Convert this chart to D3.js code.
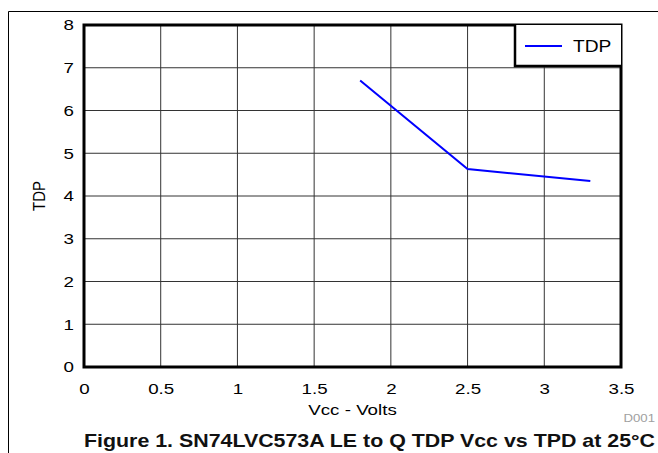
<!DOCTYPE html>
<html>
<head>
<meta charset="utf-8">
<script src="https://cdn.jsdelivr.net/npm/d3@7"></script>
<style>
  body { margin: 0; background: #fff; }
  svg { display: block; font-family: "Liberation Sans", Arial, sans-serif; }
</style>
</head>
<body>
<svg width="658" height="453"></svg>
<script>
// data
const vcc = [1.8, 2.5, 3.3];
const tdp = [6.7, 4.63, 4.35];
const xTicks = [0, 0.5, 1, 1.5, 2, 2.5, 3, 3.5];
const yTicks = [0, 1, 2, 3, 4, 5, 6, 7, 8];
const seriesName = 'TDP';
const title = 'Figure 1. SN74LVC573A LE to Q TDP Vcc vs TPD at 25°C';

const svg = d3.select('svg');
const plot = { left: 84, top: 25, right: 621, bottom: 367 };
const sx = 1.25; // the source image is stretched horizontally

const x = d3.scaleLinear().domain([0, 3.5]).range([plot.left, plot.right]);
const y = d3.scaleLinear().domain([0, 8]).range([plot.bottom, plot.top]);

// outer frame (top and left only)
svg.append('path')
  .attr('d', 'M8.5,453 V11.5 H658')
  .attr('fill', 'none')
  .attr('stroke', '#000')
  .attr('stroke-width', 1);

// grid
const grid = svg.append('g').attr('stroke', '#333').attr('stroke-width', 1);
grid.selectAll('line.v')
  .data(xTicks.slice(1, -1))
  .enter().append('line')
  .attr('class', 'v')
  .attr('x1', d => x(d)).attr('x2', d => x(d))
  .attr('y1', plot.top).attr('y2', plot.bottom);
grid.selectAll('line.h')
  .data(yTicks.slice(1, -1))
  .enter().append('line')
  .attr('class', 'h')
  .attr('y1', d => y(d)).attr('y2', d => y(d))
  .attr('x1', plot.left).attr('x2', plot.right);

// axes (labels only)
const xAxis = d3.axisBottom(x).tickValues(xTicks).tickSize(0).tickPadding(16)
  .tickFormat(d3.format('~g'));
const yAxis = d3.axisLeft(y).tickValues(yTicks).tickSize(0)
  .tickFormat(d3.format('d'));

const gx = svg.append('g').attr('transform', `translate(0,${plot.bottom})`).call(xAxis);
const gy = svg.append('g').attr('transform', `translate(${plot.left},0)`).call(yAxis);
[gx, gy].forEach(g => {
  g.select('.domain').remove();
  g.selectAll('text')
    .attr('font-family', '"Liberation Sans", Arial, sans-serif')
    .attr('font-size', 15)
    .attr('fill', '#000')
    .attr('transform', `scale(${sx},1)`);
});
gy.selectAll('text').attr('x', -8);

// series line
const line = d3.line()
  .x((d, i) => x(vcc[i]))
  .y(d => y(d));
svg.append('path')
  .datum(tdp)
  .attr('d', line)
  .attr('fill', 'none')
  .attr('stroke', '#0000ff')
  .attr('stroke-width', 2);

// plot border
svg.append('rect')
  .attr('x', plot.left).attr('y', plot.top)
  .attr('width', plot.right - plot.left)
  .attr('height', plot.bottom - plot.top)
  .attr('fill', 'none')
  .attr('stroke', '#000')
  .attr('stroke-width', 3);

// legend
const lg = svg.append('g');
lg.append('rect')
  .attr('x', 515).attr('y', plot.top)
  .attr('width', plot.right - 515).attr('height', 41)
  .attr('fill', '#fff');
lg.append('path')
  .attr('d', `M515,${plot.top} V66 H${plot.right}`)
  .attr('fill', 'none')
  .attr('stroke', '#000')
  .attr('stroke-width', 2.5);
lg.append('line')
  .attr('x1', 525).attr('x2', 562)
  .attr('y1', 46).attr('y2', 46)
  .attr('stroke', '#0000ff').attr('stroke-width', 2);
lg.append('text')
  .attr('transform', `translate(573,52) scale(1.2,1)`)
  .attr('font-size', 16)
  .text(seriesName);

// axis titles
svg.append('text')
  .attr('transform', `translate(${(plot.left + plot.right) / 2},414.5) scale(${sx},1)`)
  .attr('text-anchor', 'middle')
  .attr('font-size', 15)
  .text('Vcc - Volts');

svg.append('text')
  .attr('transform', `translate(45,${(plot.top + plot.bottom) / 2}) rotate(-90) scale(1,1.15)`)
  .attr('text-anchor', 'middle')
  .attr('font-size', 15)
  .text('TDP');

svg.append('text')
  .attr('transform', 'translate(655,422) scale(1.2,1)')
  .attr('text-anchor', 'end')
  .attr('font-size', 11)
  .attr('fill', '#a0a0a0')
  .text('D001');

svg.append('text')
  .attr('x', 84).attr('y', 447)
  .attr('font-size', 19)
  .attr('font-weight', 'bold')
  .attr('fill', '#111')
  .attr('textLength', 571)
  .attr('lengthAdjust', 'spacingAndGlyphs')
  .text(title);
</script>
</body>
</html>
